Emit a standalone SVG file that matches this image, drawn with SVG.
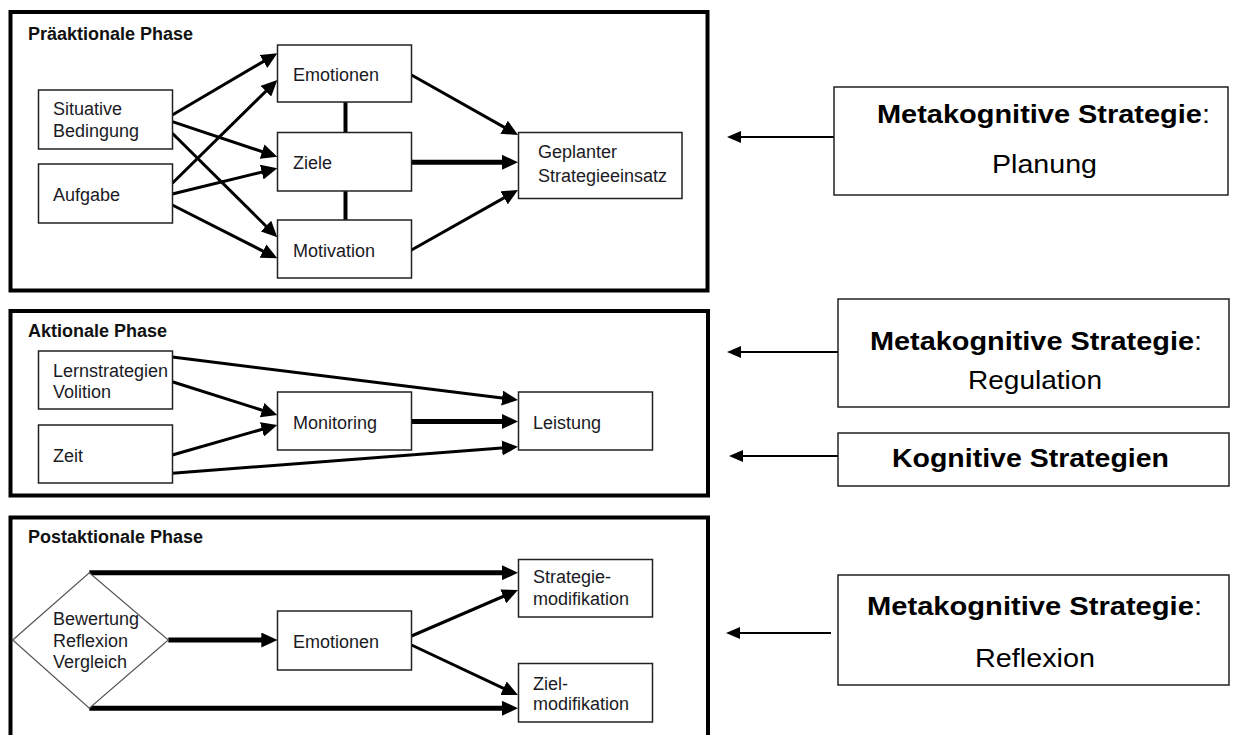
<svg xmlns="http://www.w3.org/2000/svg" width="1235" height="735" viewBox="0 0 1235 735">
<style>
  .panel{fill:none;stroke:#000;stroke-width:4}
  .box{fill:#fff;stroke:#222;stroke-width:1.5}
  .dia{fill:#fff;stroke:#555;stroke-width:1.2}
  .t{font-family:"Liberation Sans",Arial,sans-serif;font-size:18px;fill:#1a1a24}
  .title{font-family:"Liberation Sans",Arial,sans-serif;font-size:18px;font-weight:bold;fill:#111}
  .rb{fill:#fff;stroke:#222;stroke-width:1.5}
  .rt{font-family:"Liberation Sans",Arial,sans-serif;font-size:25px;fill:#000}
  .rbold{font-weight:bold}
  .c{stroke:#000;stroke-width:3;fill:none;marker-end:url(#ah)}
  .ck{stroke:#000;stroke-width:5;fill:none;marker-end:url(#ah)}
  .cl{stroke:#000;stroke-width:4;fill:none}
  .cr{stroke:#000;stroke-width:2;fill:none;marker-end:url(#ahs)}
</style>
<defs>
  <marker id="ah" markerUnits="userSpaceOnUse" markerWidth="16" markerHeight="15" refX="6" refY="7.5" orient="auto">
    <path d="M0,0 L16,7.5 L0,15 z" fill="#000"/>
  </marker>
  <marker id="ahs" markerUnits="userSpaceOnUse" markerWidth="14" markerHeight="12" refX="6" refY="6" orient="auto">
    <path d="M0,0 L14,6 L0,12 z" fill="#000"/>
  </marker>
</defs>
<rect width="1235" height="735" fill="#fff"/>

<!-- Panels -->
<g id="panel-praeaktional">
  <rect class="panel" x="10.5" y="12" width="697" height="278.5"/>
  <text class="title" x="28" y="40">Präaktionale Phase</text>
</g>
<g id="panel-aktional">
  <rect class="panel" x="10.5" y="311" width="697.5" height="184.5"/>
  <text class="title" x="28" y="337">Aktionale Phase</text>
</g>
<g id="panel-postaktional">
  <rect class="panel" x="10.5" y="517.5" width="697.5" height="260"/>
  <text class="title" x="28" y="543">Postaktionale Phase</text>
</g>

<!-- Connectors -->
<g id="connectors">
  <line class="c" x1="172.3" y1="115" x2="268.7" y2="58.4"/>
  <line class="c" x1="172.3" y1="183.3" x2="270.2" y2="87.0"/>
  <line class="c" x1="172.3" y1="121.7" x2="267.8" y2="153.5"/>
  <line class="c" x1="172.3" y1="194" x2="267.6" y2="170.7"/>
  <line class="c" x1="172.3" y1="133.3" x2="270.2" y2="230.3"/>
  <line class="c" x1="172.3" y1="205" x2="268.4" y2="253.8"/>
  <line class="cl" x1="345.5" y1="101.7" x2="345.5" y2="132.5"/>
  <line class="cl" x1="345.5" y1="191" x2="345.5" y2="220"/>
  <line class="c" x1="411.5" y1="75" x2="509.3" y2="130.1"/>
  <line class="ck" x1="411.5" y1="162.3" x2="508" y2="162.3"/>
  <line class="c" x1="411.5" y1="250" x2="509.3" y2="194.9"/>

  <line class="c" x1="172.3" y1="357" x2="508.1" y2="398.8"/>
  <line class="c" x1="172.3" y1="381.7" x2="267.8" y2="412.0"/>
  <line class="c" x1="172.3" y1="455" x2="267.7" y2="427.7"/>
  <line class="ck" x1="411.5" y1="421.5" x2="508" y2="421.5"/>
  <line class="c" x1="172.3" y1="473.3" x2="508.0" y2="447.5"/>

  <line class="ck" x1="89.3" y1="572.7" x2="508" y2="572.7"/>
  <line class="ck" x1="89.3" y1="708.3" x2="508" y2="708.3"/>
  <line class="ck" x1="168.3" y1="640" x2="267.3" y2="640"/>
  <line class="c" x1="411.5" y1="636" x2="508.8" y2="594.0"/>
  <line class="c" x1="411.5" y1="645" x2="508.9" y2="690.8"/>

  <line class="cr" x1="834" y1="137" x2="735" y2="137"/>
  <line class="cr" x1="838" y1="352" x2="735" y2="352"/>
  <line class="cr" x1="838" y1="456" x2="737" y2="456"/>
  <line class="cr" x1="831" y1="633" x2="734" y2="633"/>
</g>

<!-- Präaktionale nodes -->
<g id="situative">
  <rect class="box" x="38.5" y="90" width="134" height="59"/>
  <text class="t" x="53" y="115">Situative</text>
  <text class="t" x="53" y="137">Bedingung</text>
</g>
<g id="aufgabe">
  <rect class="box" x="38.5" y="164" width="134" height="59"/>
  <text class="t" x="53" y="201">Aufgabe</text>
</g>
<g id="emotionen1">
  <rect class="box" x="277.5" y="45" width="134" height="57"/>
  <text class="t" x="293" y="81">Emotionen</text>
</g>
<g id="ziele">
  <rect class="box" x="277.5" y="132.5" width="134" height="58.5"/>
  <text class="t" x="293" y="169">Ziele</text>
</g>
<g id="motivation">
  <rect class="box" x="277.5" y="220" width="134" height="58"/>
  <text class="t" x="293" y="257">Motivation</text>
</g>
<g id="geplanter">
  <rect class="box" x="518.5" y="132.5" width="163.5" height="66"/>
  <text class="t" x="538" y="158">Geplanter</text>
  <text class="t" x="538" y="181.5">Strategieeinsatz</text>
</g>

<!-- Aktionale nodes -->
<g id="lernstrategien">
  <rect class="box" x="38.5" y="351" width="134" height="58"/>
  <text class="t" x="53" y="376.5">Lernstrategien</text>
  <text class="t" x="53" y="398">Volition</text>
</g>
<g id="zeit">
  <rect class="box" x="38.5" y="425" width="134" height="58"/>
  <text class="t" x="53" y="461.5">Zeit</text>
</g>
<g id="monitoring">
  <rect class="box" x="277.5" y="392" width="134" height="58"/>
  <text class="t" x="293" y="429">Monitoring</text>
</g>
<g id="leistung">
  <rect class="box" x="518.5" y="392" width="134" height="58"/>
  <text class="t" x="533" y="429">Leistung</text>
</g>

<!-- Postaktionale nodes -->
<g id="bewertung">
  <polygon class="dia" points="12.7,640 89.3,572.7 168.3,640 89.3,708.3"/>
  <text class="t" x="53" y="625">Bewertung</text>
  <text class="t" x="53" y="647">Reflexion</text>
  <text class="t" x="53" y="668">Vergleich</text>
</g>
<g id="emotionen2">
  <rect class="box" x="277.5" y="611" width="134" height="59"/>
  <text class="t" x="293" y="648">Emotionen</text>
</g>
<g id="strategiemod">
  <rect class="box" x="518.5" y="559.5" width="134" height="57.5"/>
  <text class="t" x="533" y="583">Strategie-</text>
  <text class="t" x="533" y="605">modifikation</text>
</g>
<g id="zielmod">
  <rect class="box" x="518.5" y="663.5" width="134" height="58.5"/>
  <text class="t" x="533" y="690">Ziel-</text>
  <text class="t" x="533" y="710">modifikation</text>
</g>

<!-- Right-side strategy boxes -->
<g id="meta-planung">
  <rect class="rb" x="834" y="87" width="394" height="108"/>
  <text class="rt" x="877" y="123" textLength="333" lengthAdjust="spacingAndGlyphs"><tspan class="rbold">Metakognitive Strategie</tspan>:</text>
  <text class="rt" x="992" y="173" textLength="105" lengthAdjust="spacingAndGlyphs">Planung</text>
</g>
<g id="meta-regulation">
  <rect class="rb" x="838" y="299" width="391" height="108"/>
  <text class="rt" x="870" y="350" textLength="332" lengthAdjust="spacingAndGlyphs"><tspan class="rbold">Metakognitive Strategie</tspan>:</text>
  <text class="rt" x="968" y="389" textLength="134" lengthAdjust="spacingAndGlyphs">Regulation</text>
</g>
<g id="kognitive">
  <rect class="rb" x="838" y="433" width="391" height="53"/>
  <text class="rt rbold" x="892" y="467" textLength="277" lengthAdjust="spacingAndGlyphs">Kognitive Strategien</text>
</g>
<g id="meta-reflexion">
  <rect class="rb" x="838" y="575" width="391" height="110"/>
  <text class="rt" x="867" y="615" textLength="335" lengthAdjust="spacingAndGlyphs"><tspan class="rbold">Metakognitive Strategie</tspan>:</text>
  <text class="rt" x="975" y="667" textLength="120" lengthAdjust="spacingAndGlyphs">Reflexion</text>
</g>
</svg>
